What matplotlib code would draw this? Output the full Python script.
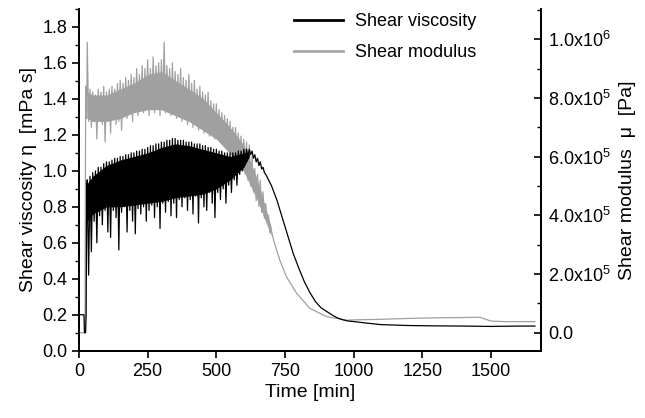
import numpy as np
import matplotlib
matplotlib.use("Agg")
import matplotlib.pyplot as plt
import matplotlib.ticker as mtick

matplotlib.rcParams['font.family'] = ['Liberation Sans', 'DejaVu Sans']
matplotlib.rcParams['mathtext.fontset'] = 'custom'
matplotlib.rcParams['mathtext.rm'] = 'Liberation Sans'
matplotlib.rcParams['mathtext.it'] = 'Liberation Sans'

# Shear viscosity [mPa s]
visc_time = [0, 18, 20, 24, 26, 28,
             30, 35, 40, 45, 50, 55, 60, 65, 70, 75, 80, 85, 90, 95,
             100, 105, 110, 115, 120, 125, 130, 135, 140, 145, 150, 155, 160, 165, 170, 175, 180, 185, 190, 195,
             200, 205, 210, 215, 220, 225, 230, 235, 240, 245, 250, 255, 260, 265, 270, 275, 280, 285, 290, 295,
             300, 305, 310, 315, 320, 325, 330, 335, 340, 345, 350, 355, 360, 365, 370, 375, 380, 385, 390, 395,
             400, 405, 410, 415, 420, 425, 430, 435, 440, 445, 450, 455, 460, 465, 470, 475, 480, 485, 490, 495,
             500, 505, 510, 515, 520, 525, 530, 535, 540, 545, 550, 555, 560, 565, 570, 575, 580, 585, 590, 595,
             600, 605, 610, 615, 620, 625, 630, 635, 640, 645, 650, 655, 660, 665, 670, 675, 680, 690,
             700, 720, 740, 760, 780, 800, 820, 840, 860, 880, 900, 920, 940, 960, 980,
             1000, 1050, 1100, 1200, 1300, 1400, 1500, 1600, 1660]
visc = [0.2, 0.2, 0.1, 0.1, 0.2, 0.9,
        0.95, 0.42, 0.97, 0.55, 0.99, 0.72, 1.0, 0.6, 1.02, 0.75, 1.02, 0.7, 1.04, 0.78,
        1.05, 0.66, 1.05, 0.63, 1.06, 0.78, 1.07, 0.74, 1.07, 0.56, 1.08, 0.77, 1.08, 0.8, 1.09, 0.66, 1.09, 0.78, 1.1, 0.72,
        1.1, 0.65, 1.11, 0.79, 1.11, 0.76, 1.12, 0.8, 1.12, 0.72, 1.13, 0.78, 1.14, 0.81, 1.14, 0.74, 1.15, 0.8, 1.15, 0.68,
        1.16, 0.82, 1.16, 0.77, 1.17, 0.83, 1.17, 0.75, 1.18, 0.82, 1.18, 0.74, 1.17, 0.84, 1.17, 0.8, 1.17, 0.85, 1.16, 0.78,
        1.16, 0.84, 1.16, 0.76, 1.15, 0.86, 1.15, 0.71, 1.15, 0.85, 1.14, 0.8, 1.14, 0.78, 1.13, 0.88, 1.13, 0.82, 1.12, 0.74,
        1.12, 0.88, 1.11, 0.84, 1.11, 0.9, 1.1, 0.82, 1.1, 0.92, 1.1, 0.88, 1.1, 0.95, 1.1, 0.92, 1.11, 0.98, 1.11, 1.0,
        1.12, 1.04, 1.12, 1.08, 1.12, 1.09, 1.11, 1.07, 1.09, 1.05, 1.07, 1.03, 1.05, 1.01, 1.02, 0.99, 0.98, 0.95,
        0.92, 0.84, 0.74, 0.64, 0.54, 0.46, 0.385, 0.325, 0.275, 0.24, 0.22, 0.2, 0.183, 0.172, 0.165,
        0.162, 0.153, 0.145, 0.14, 0.138, 0.137, 0.135, 0.137, 0.137]

# dense core of the noisy viscosity band
visc_band_time = [30, 50, 100, 150, 200, 250, 300, 350, 400, 450, 500, 550, 600, 620]
visc_band_top = [0.93, 0.97, 1.03, 1.06, 1.08, 1.1, 1.13, 1.15, 1.14, 1.12, 1.1, 1.08, 1.1, 1.1]
visc_band_bottom = [0.72, 0.76, 0.8, 0.8, 0.81, 0.82, 0.83, 0.85, 0.86, 0.87, 0.9, 0.95, 1.02, 1.08]

# Shear modulus [1e5 Pa]
mod_time = [0, 22, 24, 26, 28,
            30, 35, 40, 45, 50, 55, 60, 65, 70, 75, 80, 85, 90, 95,
            100, 105, 110, 115, 120, 125, 130, 135, 140, 145, 150, 155, 160, 165, 170, 175, 180, 185, 190, 195,
            200, 205, 210, 215, 220, 225, 230, 235, 240, 245, 250, 255, 260, 265, 270, 275, 280, 285, 290, 295,
            300, 305, 310, 315, 320, 325, 330, 335, 340, 345, 350, 355, 360, 365, 370, 375, 380, 385, 390, 395,
            400, 405, 410, 415, 420, 425, 430, 435, 440, 445, 450, 455, 460, 465, 470, 475, 480, 485, 490, 495,
            500, 505, 510, 515, 520, 525, 530, 535, 540, 545, 550, 555, 560, 565, 570, 575, 580, 585, 590, 595,
            600, 605, 610, 615, 620, 625, 630, 635, 640, 645, 650, 655, 660, 665, 670, 675, 680, 685, 690, 695,
            700, 710, 732, 756, 792, 841, 902, 974, 1000, 1100, 1200, 1300, 1400, 1460, 1480, 1500, 1550, 1660]
modulus = [0.0, 0.0, 7.5, 8.4, 7.3,
           9.9, 7.2, 8.3, 7.0, 8.2, 7.3, 8.1, 6.6, 8.3, 7.2, 8.2, 7.1, 8.4, 6.5,
           8.2, 7.2, 8.3, 6.8, 8.4, 7.3, 8.3, 7.1, 8.5, 7.2, 8.6, 6.9, 8.5, 7.4, 8.7, 7.3, 8.6, 7.5, 8.8, 7.2,
           8.7, 7.5, 9.0, 7.4, 8.8, 7.6, 9.1, 7.5, 9.0, 7.7, 9.3, 7.4, 9.0, 7.6, 9.4, 7.5, 9.1, 7.8, 9.2, 7.4,
           9.3, 7.6, 9.9, 7.5, 9.1, 7.7, 9.0, 7.4, 9.2, 7.5, 8.9, 7.3, 8.8, 7.5, 9.0, 7.2, 8.7, 7.3, 8.6, 7.1,
           8.8, 7.2, 8.5, 7.0, 8.6, 7.1, 8.3, 6.9, 8.4, 7.0, 8.2, 6.8, 8.1, 6.9, 8.2, 6.7, 7.9, 6.8, 7.8, 6.6,
           7.8, 6.6, 7.6, 6.5, 7.5, 6.4, 7.4, 6.3, 7.3, 6.2, 7.2, 6.1, 7.0, 6.0, 7.0, 5.9, 6.8, 5.8, 6.7, 5.7,
           6.6, 5.4, 6.5, 5.2, 6.4, 5.0, 6.0, 4.8, 5.6, 4.5, 5.4, 4.3, 5.2, 4.1, 4.8, 3.9, 4.4, 3.8, 4.0, 3.4,
           3.5, 3.1, 2.45, 1.9, 1.35, 0.83, 0.55, 0.43, 0.44, 0.46, 0.49, 0.51, 0.52, 0.53, 0.46, 0.40, 0.38, 0.38]

# dense core of the noisy modulus band [1e5 Pa]
mod_band_time = [30, 50, 100, 150, 200, 250, 300, 350, 400, 450, 500, 550, 600, 650, 700]
mod_band_top = [8.2, 8.1, 8.1, 8.3, 8.5, 8.8, 8.9, 8.6, 8.3, 8.0, 7.5, 7.0, 6.4, 5.2, 3.6]
mod_band_bottom = [7.3, 7.2, 7.2, 7.3, 7.5, 7.6, 7.6, 7.4, 7.2, 6.9, 6.6, 6.1, 5.5, 4.5, 3.3]

BLACK = 'black'
GRAY = '#a0a0a0'

fig = plt.figure(figsize=(6.45, 4.18), dpi=100)
ax = fig.add_axes([79 / 645, 1 - 350.7 / 418, (541 - 79) / 645, (350.7 - 9) / 418])
ax2 = ax.twinx()

ax2.fill_between(mod_band_time, np.array(mod_band_bottom) * 1e5, np.array(mod_band_top) * 1e5,
                 color=GRAY, lw=0)
l2, = ax2.plot(mod_time, np.array(modulus) * 1e5, color=GRAY, lw=0.9, label='Shear modulus')
ax.fill_between(visc_band_time, visc_band_bottom, visc_band_top, color=BLACK, lw=0)
l1, = ax.plot(visc_time, visc, color=BLACK, lw=0.9, label='Shear viscosity')
ax.set_zorder(ax2.get_zorder() + 1)
ax.patch.set_visible(False)

ax.set_xlim(0, 1682)
ax.set_ylim(0, 1.9)
ax2.set_ylim(-0.61e5, 11.03e5)

ax.xaxis.set_major_locator(mtick.MultipleLocator(250))
ax.yaxis.set_major_locator(mtick.MultipleLocator(0.2))
ax.yaxis.set_minor_locator(mtick.MultipleLocator(0.1))
ax.yaxis.set_major_formatter(mtick.FormatStrFormatter('%.1f'))
ax2.yaxis.set_major_locator(mtick.MultipleLocator(2e5))
ax2.yaxis.set_minor_locator(mtick.MultipleLocator(1e5))


def sci_fmt(v, pos):
    if abs(v) < 1:
        return '0.0'
    exp = int(np.floor(np.log10(abs(v))))
    return '%.1fx10$^{%d}$' % (v / 10 ** exp, exp)


ax2.yaxis.set_major_formatter(mtick.FuncFormatter(sci_fmt))

for a in (ax, ax2):
    a.spines['top'].set_visible(False)
    for s in ('left', 'right', 'bottom'):
        a.spines[s].set_linewidth(1.3)
ax.tick_params(axis='both', which='major', labelsize=13, width=1.2, length=5, direction='out')
ax.tick_params(axis='y', which='minor', width=1.0, length=3, direction='out')
ax2.tick_params(axis='y', which='major', labelsize=13, width=1.2, length=5, direction='in', pad=5)
ax2.tick_params(axis='y', which='minor', width=1.0, length=3, direction='in')

ax.set_xlabel('Time [min]', fontsize=14, labelpad=3)
ax.set_ylabel('Shear viscosity η  [mPa s]', fontsize=14, labelpad=4)
ax2.set_ylabel('Shear modulus  μ  [Pa]', fontsize=14, labelpad=6)

leg = ax.legend(handles=[l1, l2], loc='upper left', bbox_to_anchor=(0.43, 1.035), frameon=False,
                fontsize=13, handlelength=2.7, handletextpad=0.7, labelspacing=0.75)
leg.get_lines()[0].set_linewidth(2.0)
leg.get_lines()[1].set_linewidth(2.0)
leg.get_lines()[1].set_color('#a8a8a8')

fig.savefig('out.png', dpi=100)
